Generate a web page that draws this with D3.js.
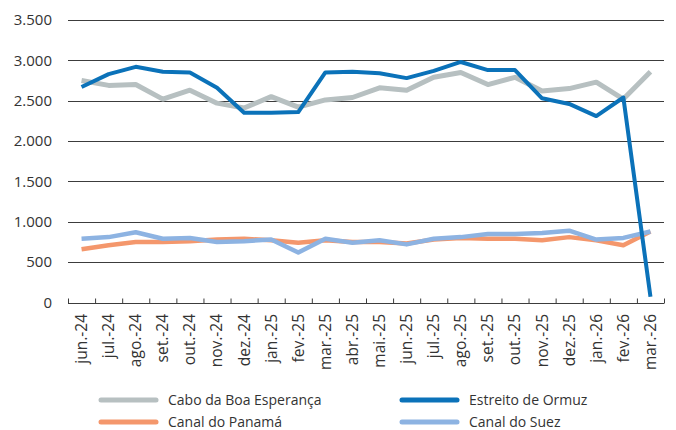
<!DOCTYPE html>
<meta charset="utf-8">
<html>
  <head>
    <style>
      body { margin: 0; background: #fff; }
      svg text { font-family: "Open Sans", sans-serif; fill: #333; }
      .grid line { stroke: #3c3c3c; stroke-width: 1px; }
      .line { fill: none; stroke-linejoin: round; stroke-linecap: butt; }
    </style>
  </head>
  <body>
    <script src="https://d3js.org/d3.v7.min.js"></script>
    <script>

      var months = ["jun.-24","jul.-24","ago.-24","set.-24","out.-24","nov.-24","dez.-24",
                    "jan.-25","fev.-25","mar.-25","abr.-25","mai.-25","jun.-25","jul.-25",
                    "ago.-25","set.-25","out.-25","nov.-25","dez.-25","jan.-26","fev.-26","mar.-26"];

      var boaEsperanca = [2750,2690,2700,2520,2630,2470,2410,2550,2420,2510,2540,2660,
                          2630,2790,2850,2700,2790,2620,2650,2730,2520,2860];
      var ormuz        = [2670,2830,2920,2860,2850,2660,2350,2350,2360,2850,2860,2840,
                          2780,2870,2980,2880,2880,2530,2460,2310,2540,70];
      var panama       = [660,710,750,750,760,780,790,770,740,770,750,750,
                          730,780,800,790,790,770,810,770,710,880];
      var suez         = [790,810,870,790,800,750,760,780,620,790,740,770,
                          720,790,810,850,850,860,890,780,800,880];

      var yTicks = [0,500,1000,1500,2000,2500,3000,3500];

      var series = [
        {name: "Cabo da Boa Esperança", values: boaEsperanca, color: "#b7c0c1", width: 5},
        {name: "Canal do Panamá",       values: panama,       color: "#f4976c", width: 4.5},
        {name: "Canal do Suez",         values: suez,         color: "#8db3e2", width: 4.5},
        {name: "Estreito de Ormuz",     values: ormuz,        color: "#0b72b9", width: 4}
      ];

      var W = 676, H = 430;
      var plot = {left: 68, right: 664, top: 20, bottom: 302.5};

      var svg = d3.select("body").append("svg")
          .attr("width", W)
          .attr("height", H);

      var x = d3.scaleBand().domain(months).range([plot.left, plot.right]);
      var y = d3.scaleLinear().domain([0, 3500]).range([plot.bottom, plot.top]);

      // gridlines
      svg.append("g").attr("class", "grid")
        .selectAll("line")
        .data(yTicks.filter(function(d) { return d > 0; }))
        .enter().append("line")
          .attr("x1", plot.left).attr("x2", plot.right)
          .attr("y1", function(d) { return Math.round(y(d)) + 0.5; })
          .attr("y2", function(d) { return Math.round(y(d)) + 0.5; });

      // y labels
      svg.append("g")
        .selectAll("text")
        .data(yTicks)
        .enter().append("text")
          .attr("x", 52)
          .attr("y", function(d) { return y(d); })
          .attr("dy", "0.35em")
          .attr("text-anchor", "end")
          .style("font-size", "15px")
          .text(function(d) { return d3.format(",")(d).replace(/,/g, "."); });

      // x axis with ticks on band boundaries
      var bounds = d3.scaleLinear().domain([0, months.length]).range([plot.left, plot.right]);
      var xAxis = svg.append("g")
          .attr("transform", "translate(0," + (Math.round(plot.bottom) + 0.5) + ")")
          .call(d3.axisBottom(bounds).tickValues(d3.range(months.length + 1))
                .tickSize(-5).tickFormat(""));
      xAxis.select(".domain").attr("stroke", "#3c3c3c").attr("d", "M" + plot.left + ",0H" + plot.right);
      xAxis.selectAll(".tick line").attr("stroke", "#3c3c3c");

      // x labels
      svg.append("g")
        .selectAll("text")
        .data(months)
        .enter().append("text")
          .attr("transform", function(d) {
            return "translate(" + (x(d) + x.bandwidth() / 2) + ",314) rotate(-90)";
          })
          .attr("dy", "0.35em")
          .attr("text-anchor", "end")
          .style("font-size", "15.5px")
          .text(function(d) { return d; });

      // lines
      var line = d3.line()
          .x(function(d, i) { return x(months[i]) + x.bandwidth() / 2; })
          .y(function(d) { return y(d); });

      svg.selectAll(".line")
        .data(series)
        .enter().append("path")
          .attr("class", "line")
          .attr("stroke", function(d) { return d.color; })
          .attr("stroke-width", function(d) { return d.width; })
          .attr("d", function(d) { return line(d.values); });

      // legend
      var legendOrder = [series[0], series[3], series[1], series[2]];
      var legend = svg.append("g")
        .selectAll("g")
        .data(legendOrder)
        .enter().append("g")
          .attr("transform", function(d, i) {
            return "translate(" + (i % 2 === 0 ? 101 : 402) + "," + (i < 2 ? 400 : 422) + ")";
          });

      legend.append("line")
          .attr("x1", 0).attr("x2", 55)
          .attr("stroke", function(d) { return d.color; })
          .attr("stroke-width", 5)
          .attr("stroke-linecap", "round");

      legend.append("text")
          .attr("x", 67)
          .attr("dy", "0.35em")
          .style("font-size", "14px")
          .text(function(d) { return d.name; });

    </script>
  </body>
</html>
